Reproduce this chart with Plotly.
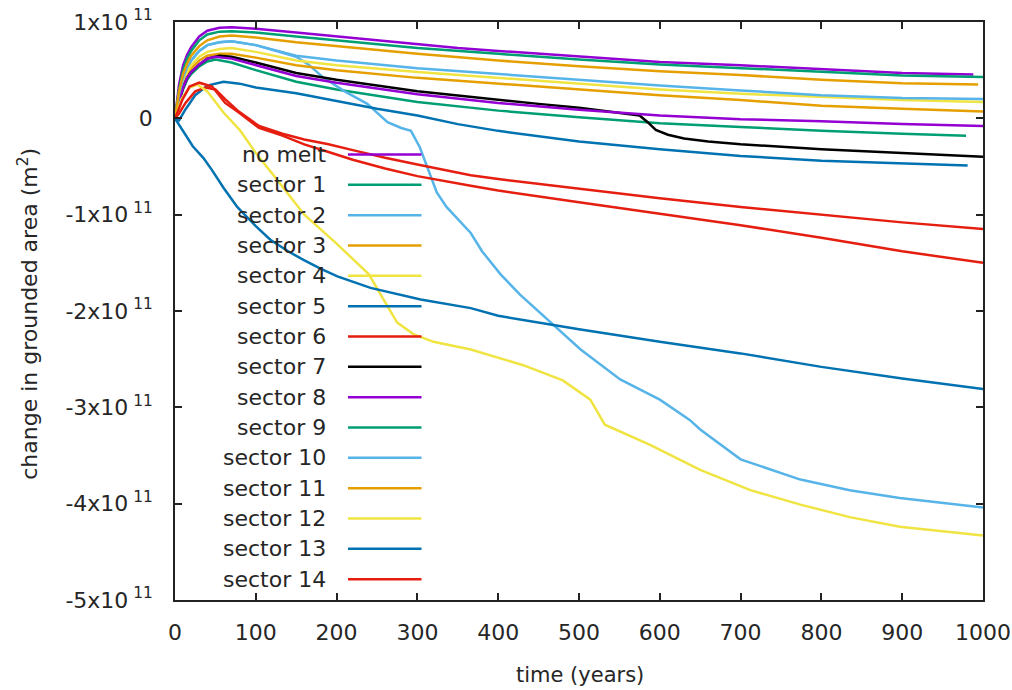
import plotly.graph_objects as go

# Change in grounded area relative to the start, in units of 1e11 m^2
SCALE = 1e11

no_melt_t = [0, 5, 10, 15, 20, 30, 40, 55, 70, 100, 150, 200, 250, 300, 350, 400, 450, 500, 600, 700, 800, 900, 988]
no_melt_v = [0, 0.35, 0.55, 0.66, 0.74, 0.85, 0.91, 0.94, 0.945, 0.93, 0.89, 0.85, 0.81, 0.77, 0.73, 0.70, 0.67, 0.64, 0.585, 0.55, 0.51, 0.47, 0.455]

s1_t = [0, 5, 10, 15, 20, 30, 40, 50, 70, 100, 150, 200, 300, 400, 500, 600, 700, 800, 900, 979]
s1_v = [0, 0.17, 0.30, 0.40, 0.46, 0.54, 0.59, 0.61, 0.58, 0.50, 0.38, 0.30, 0.17, 0.08, 0.01, -0.05, -0.09, -0.13, -0.16, -0.18]

s2_t = [0, 5, 10, 15, 20, 30, 40, 55, 70, 100, 150, 165, 184, 210, 238, 263, 280, 292, 303, 312, 324, 336, 350, 366,
        380, 403, 427, 464, 502, 551, 600, 637, 650, 700, 774, 835, 897, 1000]
s2_v = [0, 0.25, 0.42, 0.53, 0.60, 0.70, 0.76, 0.79, 0.80, 0.76, 0.64, 0.56, 0.42, 0.28, 0.15, -0.04, -0.10, -0.13, -0.30,
        -0.50, -0.77, -0.92, -1.05, -1.19, -1.38, -1.62, -1.83, -2.11, -2.40, -2.71, -2.92, -3.13, -3.23, -3.54, -3.75,
        -3.86, -3.94, -4.04]

s3_t = [0, 5, 10, 15, 20, 30, 40, 55, 70, 100, 150, 200, 300, 400, 500, 600, 700, 800, 900, 1000]
s3_v = [0, 0.20, 0.35, 0.45, 0.52, 0.60, 0.65, 0.67, 0.67, 0.63, 0.55, 0.50, 0.42, 0.36, 0.30, 0.24, 0.19, 0.13, 0.10, 0.07]

s4_t = [0, 5, 10, 15, 20, 30, 40, 55, 70, 100, 150, 200, 300, 400, 500, 600, 700, 800, 900, 1000]
s4_v = [0, 0.22, 0.38, 0.48, 0.55, 0.64, 0.69, 0.72, 0.73, 0.69, 0.60, 0.55, 0.48, 0.42, 0.36, 0.30, 0.255, 0.22, 0.19, 0.17]

s5_t = [0, 5, 12, 25, 40, 60, 80, 100, 150, 200, 250, 300, 350, 400, 500, 600, 700, 800, 900, 981]
s5_v = [0, -0.02, 0.08, 0.24, 0.34, 0.38, 0.36, 0.32, 0.26, 0.18, 0.10, 0.03, -0.06, -0.13, -0.24, -0.32, -0.39, -0.44, -0.47, -0.49]

s6_t = [0, 5, 13, 25, 38, 50, 62, 79, 104, 133, 160, 190, 220, 260, 300, 366, 400, 500, 600, 700, 800, 900, 1000]
s6_v = [0, 0.05, 0.16, 0.28, 0.32, 0.30, 0.20, 0.07, -0.08, -0.16, -0.22, -0.27, -0.33, -0.41, -0.48, -0.59, -0.63, -0.73, -0.83, -0.92, -1.00, -1.08, -1.15]

s7_t = [0, 5, 10, 15, 20, 30, 40, 55, 70, 100, 150, 200, 300, 400, 450, 500, 550, 575, 585, 595, 610, 630, 660, 700, 800, 900, 1000]
s7_v = [0, 0.18, 0.32, 0.42, 0.48, 0.56, 0.62, 0.65, 0.64, 0.58, 0.47, 0.40, 0.28, 0.19, 0.15, 0.11, 0.06, 0.03, -0.04, -0.12, -0.17, -0.21, -0.24, -0.27, -0.32, -0.36, -0.40]

s8_t = [0, 5, 10, 15, 20, 30, 40, 50, 70, 100, 150, 200, 300, 400, 500, 600, 700, 800, 900, 1000]
s8_v = [0, 0.18, 0.32, 0.42, 0.48, 0.56, 0.62, 0.64, 0.62, 0.55, 0.44, 0.37, 0.25, 0.16, 0.09, 0.03, -0.01, -0.03, -0.06, -0.08]

s9_t = [0, 5, 10, 15, 20, 30, 40, 55, 70, 100, 150, 200, 300, 400, 500, 600, 700, 800, 900, 1000]
s9_v = [0, 0.30, 0.50, 0.62, 0.70, 0.81, 0.87, 0.90, 0.905, 0.89, 0.85, 0.81, 0.73, 0.67, 0.61, 0.56, 0.52, 0.48, 0.445, 0.43]

s10_t = [0, 5, 10, 15, 20, 30, 40, 55, 70, 100, 150, 200, 300, 400, 500, 600, 700, 800, 900, 1000]
s10_v = [0, 0.25, 0.42, 0.53, 0.60, 0.70, 0.76, 0.79, 0.80, 0.76, 0.65, 0.60, 0.52, 0.46, 0.40, 0.34, 0.29, 0.24, 0.21, 0.20]

s11_t = [0, 5, 10, 15, 20, 30, 40, 55, 70, 100, 150, 200, 300, 400, 500, 600, 700, 800, 900, 994]
s11_v = [0, 0.28, 0.46, 0.57, 0.65, 0.75, 0.81, 0.85, 0.86, 0.84, 0.79, 0.75, 0.67, 0.60, 0.54, 0.49, 0.45, 0.40, 0.365, 0.35]

s12_t = [0, 8, 18, 28, 40, 60, 80, 100, 120, 160, 200, 240, 258, 275, 295, 320, 366, 430, 480, 514, 532, 588, 650, 712, 774, 835, 897, 1000]
s12_v = [0, 0.20, 0.32, 0.35, 0.28, 0.06, -0.12, -0.36, -0.57, -1.00, -1.30, -1.62, -1.88, -2.12, -2.24, -2.32, -2.40, -2.56, -2.72, -2.92, -3.18, -3.39, -3.65, -3.86, -4.01, -4.14, -4.24, -4.33]

s13_t = [0, 10, 22, 35, 46, 60, 77, 100, 118, 140, 159, 180, 201, 242, 304, 366, 400, 500, 600, 700, 800, 900, 1000]
s13_v = [0, -0.13, -0.29, -0.41, -0.54, -0.72, -0.92, -1.12, -1.26, -1.38, -1.47, -1.56, -1.64, -1.76, -1.88, -1.97, -2.05, -2.19, -2.32, -2.44, -2.58, -2.70, -2.81]

s14_t = [0, 9, 18, 30, 46, 62, 79, 104, 133, 160, 190, 220, 260, 300, 366, 400, 500, 600, 700, 800, 900, 1000]
s14_v = [0, 0.19, 0.33, 0.37, 0.33, 0.16, 0.06, -0.10, -0.18, -0.27, -0.35, -0.43, -0.52, -0.60, -0.70, -0.75, -0.87, -0.99, -1.11, -1.24, -1.38, -1.50]

names = ["no melt"] + [f"sector {i}" for i in range(1, 15)]
series_t = [no_melt_t, s1_t, s2_t, s3_t, s4_t, s5_t, s6_t, s7_t, s8_t, s9_t, s10_t, s11_t, s12_t, s13_t, s14_t]
series_v = [no_melt_v, s1_v, s2_v, s3_v, s4_v, s5_v, s6_v, s7_v, s8_v, s9_v, s10_v, s11_v, s12_v, s13_v, s14_v]

# gnuplot default line colour cycle
palette = ["#9400D3", "#009E73", "#56B4E9", "#E69F00", "#F0E442", "#0072B2", "#E51E10", "#000000"]
colors = [palette[i % len(palette)] for i in range(len(names))]

y_ticks = [1, 0, -1, -2, -3, -4, -5]
y_ticktext = ["0" if k == 0 else f"{k}x10<sup> 11</sup>" for k in y_ticks]
x_ticks = list(range(0, 1001, 100))

FONT = "DejaVu Sans"
TEXT_COLOR = "#262626"
LINE_W = 2.5

fig = go.Figure()
for name, t, v, c in zip(names, series_t, series_v, colors):
    fig.add_trace(go.Scatter(x=t, y=[val * SCALE for val in v], mode="lines", name=name,
                             line=dict(color=c, width=LINE_W), showlegend=False))

# Plot frame in pixels (figure is 1012 x 690)
W, H = 1012, 690
L, R, T, B = 175, 983, 22, 600.5


def px_x(px):
    return (px - L) / (R - L)


def px_y(py):
    return (B - py) / (B - T)


# Key: right-aligned labels with line samples to their right
key_top, key_step = 154.6, 30.36
annotations = []
shapes = []
for i, (name, c) in enumerate(zip(names, colors)):
    yy = px_y(key_top + i * key_step)
    annotations.append(dict(x=px_x(328), y=yy, xref="paper", yref="paper", text=name, showarrow=False,
                            xanchor="right", yanchor="middle", font=dict(family=FONT, size=22, color=TEXT_COLOR)))
    shapes.append(dict(type="line", xref="paper", yref="paper", x0=px_x(348), x1=px_x(421.5), y0=yy, y1=yy,
                       line=dict(color=c, width=LINE_W)))

annotations.append(dict(x=px_x(580), y=px_y(676), xref="paper", yref="paper", text="time (years)", showarrow=False,
                        xanchor="center", yanchor="middle", font=dict(family=FONT, size=21, color=TEXT_COLOR)))
annotations.append(dict(x=px_x(28), y=px_y(314), xref="paper", yref="paper",
                        text="change in grounded area (m<sup>2</sup>)", showarrow=False, textangle=-90,
                        xanchor="center", yanchor="middle", font=dict(family=FONT, size=22, color=TEXT_COLOR)))

axis_common = dict(showgrid=False, zeroline=False, showline=True, linecolor="#222222", linewidth=1.5,
                   mirror="ticks", ticks="inside", ticklen=7, tickcolor="#222222", tickwidth=1.5,
                   automargin=False, tickfont=dict(family=FONT, size=22, color=TEXT_COLOR))

fig.update_layout(
    width=W, height=H,
    margin=dict(l=L, r=W - R, t=T, b=H - B, autoexpand=False),
    paper_bgcolor="white", plot_bgcolor="white",
    xaxis=dict(range=[0, 1000], tickvals=x_ticks, ticklabelstandoff=12, **axis_common),
    yaxis=dict(range=[-5 * SCALE, 1 * SCALE], tickvals=[k * SCALE for k in y_ticks], ticktext=y_ticktext,
               ticklabelstandoff=16, **axis_common),
    annotations=annotations,
    shapes=shapes,
)

fig.write_html("out.html")
